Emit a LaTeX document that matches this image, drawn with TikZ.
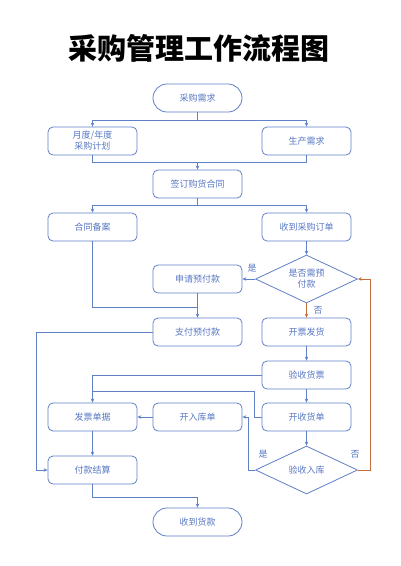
\documentclass[tikz,border=0pt]{standalone}
\usepackage{fontspec}
\newfontfamily\cjk{Noto Sans CJK SC}
\usetikzlibrary{shapes.geometric,arrows.meta}
\definecolor{lineblue}{RGB}{96,128,200}
\definecolor{txtblue}{RGB}{88,120,196}
\definecolor{orng}{RGB}{196,110,60}
\begin{document}
\begin{tikzpicture}[x=1pt,y=-1pt,
  box/.style={draw=lineblue,line width=0.8pt,rounded corners=5pt,minimum width=89pt,minimum height=28pt,inner sep=1pt,font=\cjk\fontsize{9}{11}\selectfont,text=txtblue,align=center},
  term/.style={box,rounded corners=14pt},
  dia/.style={draw=lineblue,line width=0.8pt,diamond,aspect=2.125,minimum width=102pt,minimum height=48pt,inner sep=0pt,font=\cjk\fontsize{9}{11}\selectfont,text=txtblue,align=center},
  conn/.style={draw=lineblue,line width=0.8pt},
  arr/.style={conn,-{Stealth[length=4pt,width=3.5pt]}},
  oarr/.style={draw=orng,line width=0.8pt,-{Stealth[length=4pt,width=3.5pt]}},
  lbl/.style={font=\cjk\fontsize{9}{11}\selectfont,text=txtblue}]
\useasboundingbox (0,0) rectangle (400,566);
\fill[white] (0,0) rectangle (400,566);
\node[font=\cjk\bfseries\fontsize{29}{32}\selectfont] (title) at (199,48) {采购管理工作流程图};
\node[term] (xq) at (197.5,98) {采购需求};
\node[box] (jh) at (92.5,141) {月度/年度\\采购计划};
\node[box] (sc) at (306.5,141) {生产需求};
\node[box] (ht) at (197.5,184) {签订购货合同};
\node[box] (ba) at (92.5,227) {合同备案};
\node[box] (dd) at (306.5,227) {收到采购订单};
\node[dia] (yf) at (306.5,279) {是否需预\\付款};
\node[box] (sq) at (197.5,279) {申请预付款};
\node[box] (zf) at (197.5,332) {支付预付款};
\node[box] (kp) at (306.5,332) {开票发货};
\node[box] (ys) at (306.5,375) {验收货票};
\node[box] (fp) at (92.5,417) {发票单据};
\node[box] (rk) at (197.5,417) {开入库单};
\node[box] (sh) at (306.5,417) {开收货单};
\node[dia] (yr) at (306.5,470) {验收入库};
\node[box] (js) at (92.5,470) {付款结算};
\node[term] (hk) at (197.5,522) {收到货款};
% top splits
\draw[conn] (xq.south) -- (197.5,120);
\draw[arr] (197.5,120) -| (jh.north);
\draw[arr] (197.5,120) -| (sc.north);
\draw[conn] (jh.south) |- (197.5,162);
\draw[conn] (sc.south) |- (197.5,162);
\draw[arr] (197.5,162) -- (ht.north);
\draw[conn] (ht.south) -- (197.5,205);
\draw[arr] (197.5,205) -| (ba.north);
\draw[arr] (197.5,205) -| (dd.north);
\draw[arr] (dd.south) -- (yf.north);
\draw[arr] (yf.west) -- (sq.east);
\node[lbl] (l1) at (252,268) {是};
\draw[oarr] (yf.south) -- (kp.north);
\node[lbl] (l2) at (318,310) {否};
\draw[arr] (sq.south) -- (zf.north);
\draw[conn] (ba.south) |- (197.5,307);
\draw[arr] (zf.west) -- (36,332) |- (js.west);
\draw[arr] (kp.south) -- (ys.north);
\draw[arr] (ys.west) -| (fp.north);
\draw[conn] (sh.west) -- (254,417) |- (92.5,391);
\draw[arr] (ys.south) -- (sh.north);
\draw[arr] (rk.west) -- (fp.east);
\draw[arr] (sh.south) -- (yr.north);
\draw[arr] (yr.west) -- (248,470) |- (rk.east);
\node[lbl] (l3) at (263,454) {是};
\draw[draw=orng,line width=0.8pt] (yr.east) -- (370,470) -- (370,279);
\coordinate (oc) at (370,279);
\draw[oarr] (oc) -- (yf.east);
\node[lbl] (l4) at (355,454) {否};
\draw[arr] (fp.south) -- (js.north);
\draw[arr] (js.south) |- (197.5,497) -- (hk.north);
\end{tikzpicture}
\end{document}
